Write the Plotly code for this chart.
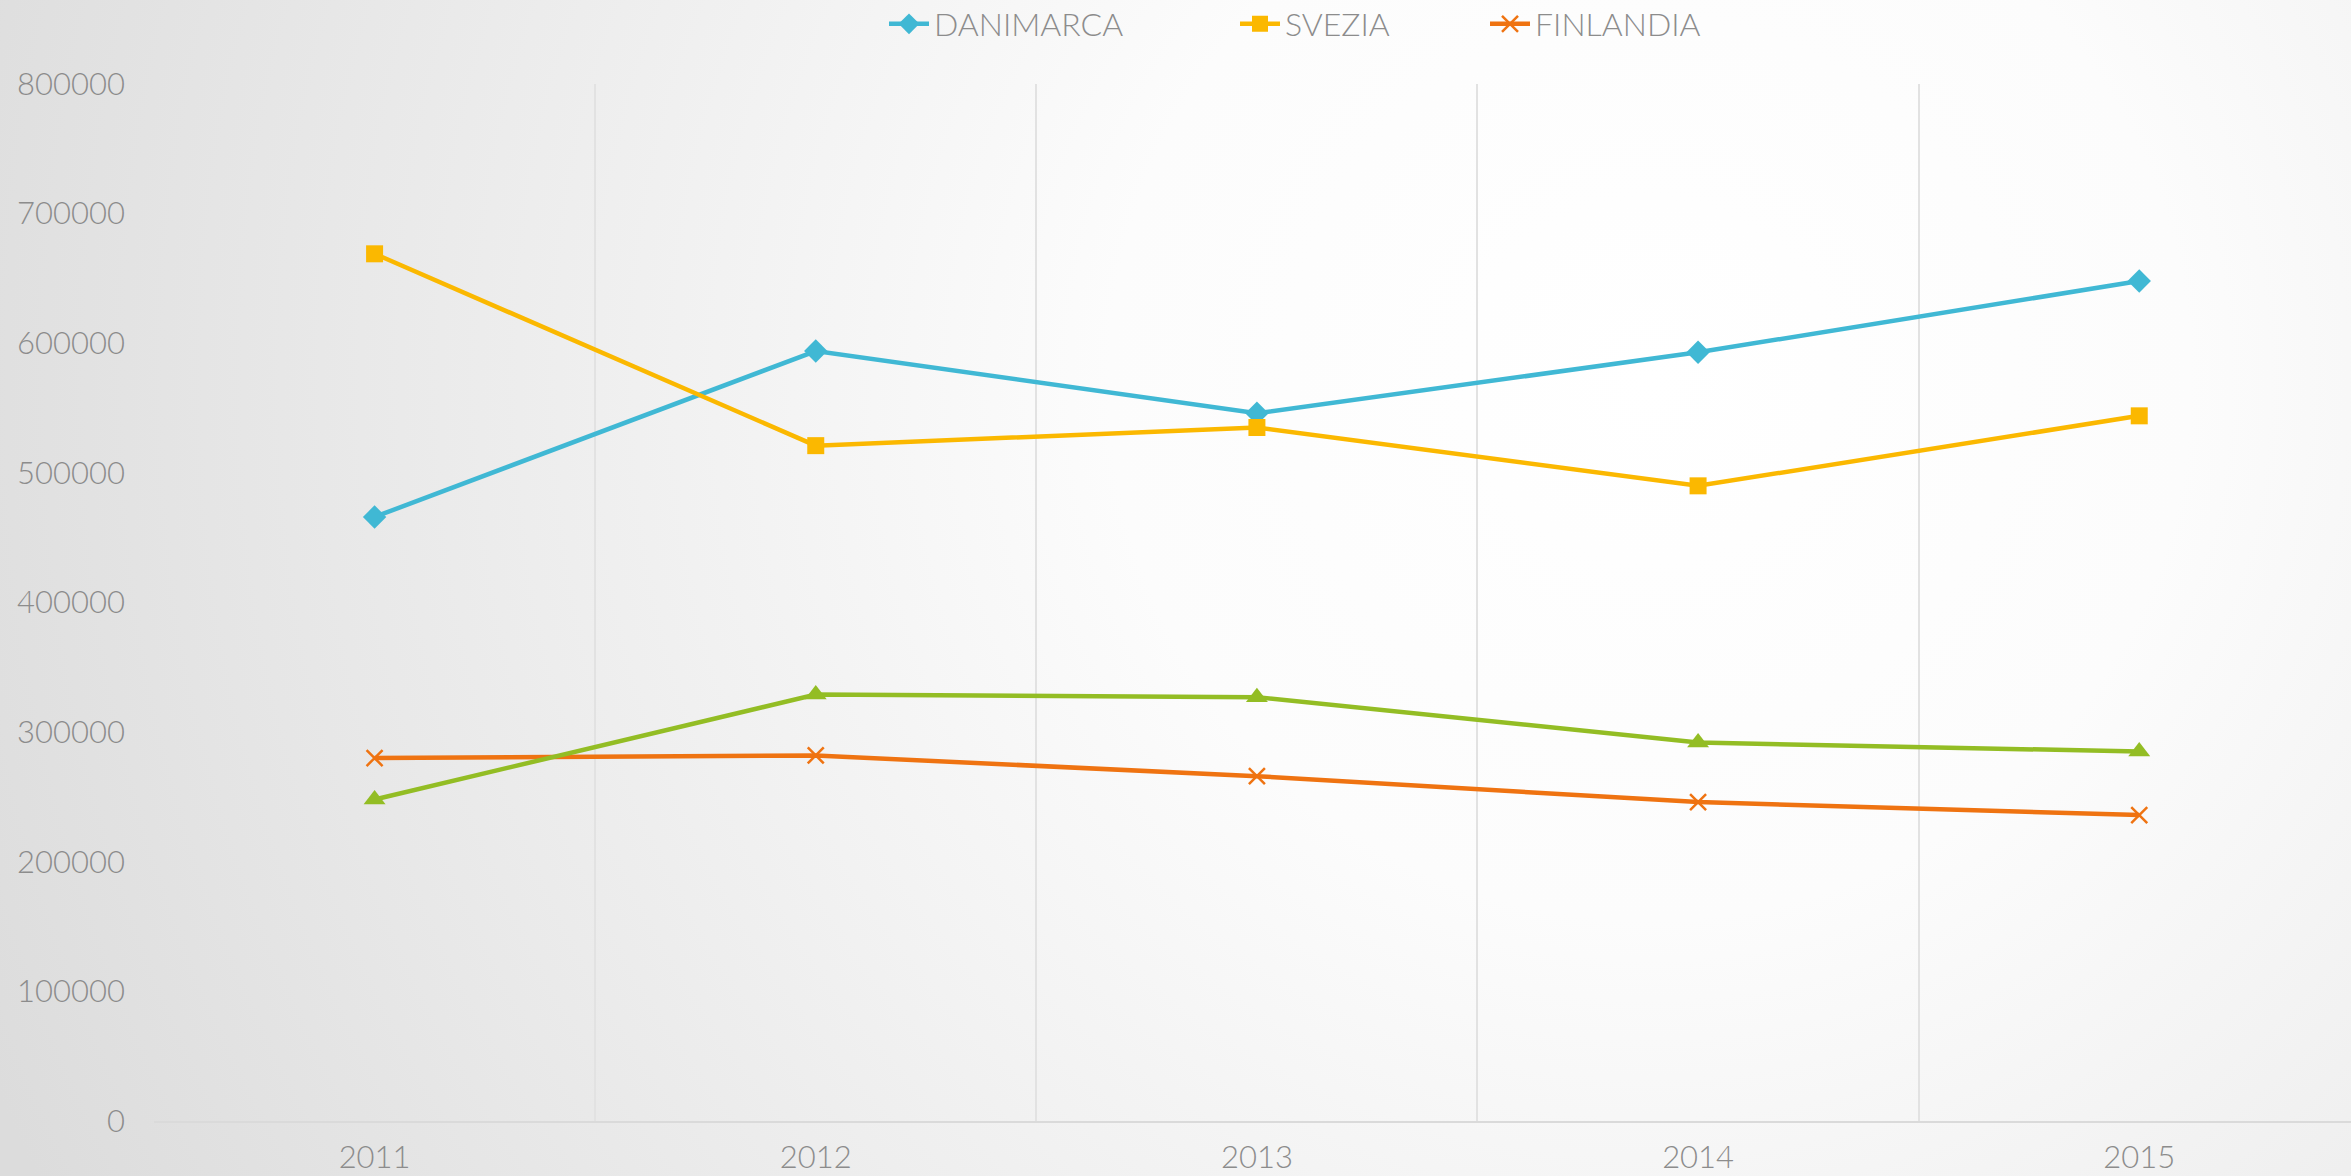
import base64
import plotly.graph_objects as go

years = ["2011", "2012", "2013", "2014", "2015"]
danimarca = [466000, 594000, 546000, 593000, 648000]
svezia = [669000, 521000, 535000, 490000, 544000]
finlandia = [280000, 282000, 266000, 246000, 236000]
norvegia = [248000, 329000, 327000, 292000, 285000]
y_ticks = [0, 100000, 200000, 300000, 400000, 500000, 600000, 700000, 800000]

W, H = 2351, 1176
ML, MR, MT, MB = 154, 0, 84, 55
PW, PH = W - ML - MR, H - MT - MB

svg = (
    f'<svg xmlns="http://www.w3.org/2000/svg" width="{W}" height="{H}">'
    '<defs><radialGradient id="g" cx="1650" cy="380" r="1800" gradientUnits="userSpaceOnUse">'
    '<stop offset="0" stop-color="#ffffff"/><stop offset="0.3" stop-color="#fcfcfc"/>'
    '<stop offset="1" stop-color="#dcdcdc"/></radialGradient></defs>'
    f'<rect width="{W}" height="{H}" fill="url(#g)"/></svg>'
)
bg_uri = "data:image/svg+xml;base64," + base64.b64encode(svg.encode()).decode()

FONT = "Lato"
GREY = "#8c8c8c"

fig = go.Figure()
fig.add_trace(go.Scatter(
    x=years, y=danimarca, name="DANIMARCA", mode="lines+markers", legend="legend",
    line=dict(color="#40B8D4", width=4.5),
    marker=dict(symbol="diamond", size=18, color="#40B8D4"),
))
fig.add_trace(go.Scatter(
    x=years, y=svezia, name="SVEZIA", mode="lines+markers", legend="legend2",
    line=dict(color="#FBB800", width=4.5),
    marker=dict(symbol="square", size=17, color="#FBB800"),
))
fig.add_trace(go.Scatter(
    x=years, y=finlandia, name="FINLANDIA", mode="lines+markers", legend="legend3",
    line=dict(color="#EF7311", width=4.5),
    marker=dict(symbol="x-thin", size=16, color="#EF7311",
                line=dict(color="#EF7311", width=2.5)),
))
fig.add_trace(go.Scatter(
    x=years, y=norvegia, name="NORVEGIA", mode="lines+markers", showlegend=False,
    line=dict(color="#93BD24", width=4.5),
    marker=dict(symbol="triangle-up", size=19, color="#93BD24"),
))

leg_font = dict(family=FONT, color=GREY, size=32, weight=300)


def legend_at(px):
    return dict(
        orientation="h", xref="container", yref="container",
        x=px / W, xanchor="left", y=1 - 24 / H, yanchor="middle",
        font=leg_font, bgcolor="rgba(0,0,0,0)", itemwidth=40,
    )


fig.update_layout(
    width=W, height=H,
    margin=dict(l=ML, r=MR, t=MT, b=MB, autoexpand=False),
    paper_bgcolor="#ffffff",
    plot_bgcolor="rgba(0,0,0,0)",
    font=dict(family=FONT, color=GREY, size=30, weight=300),
    images=[dict(
        source=bg_uri, xref="paper", yref="paper",
        x=-ML / PW, y=1 + MT / PH, sizex=W / PW, sizey=H / PH,
        xanchor="left", yanchor="top", sizing="stretch", layer="below",
    )],
    legend=legend_at(884),
    legend2=legend_at(1235),
    legend3=legend_at(1485),
    xaxis=dict(
        type="category", range=[-0.5, 4.48], tickson="boundaries",
        showgrid=True, gridcolor="#e2e2e2", gridwidth=2,
        showline=True, linecolor="#dadada", linewidth=2,
        ticks="", tickfont=dict(family=FONT, color=GREY, size=31, weight=300),
        ticklabelstandoff=8, automargin=False, zeroline=False,
    ),
    yaxis=dict(
        range=[0, 800000], tickvals=y_ticks, tickformat="d",
        showgrid=False, zeroline=False, showline=False,
        ticks="", tickfont=dict(family=FONT, color=GREY, size=31, weight=300),
        ticklabelstandoff=28, automargin=False,
    ),
)

fig.write_html("out.html")
